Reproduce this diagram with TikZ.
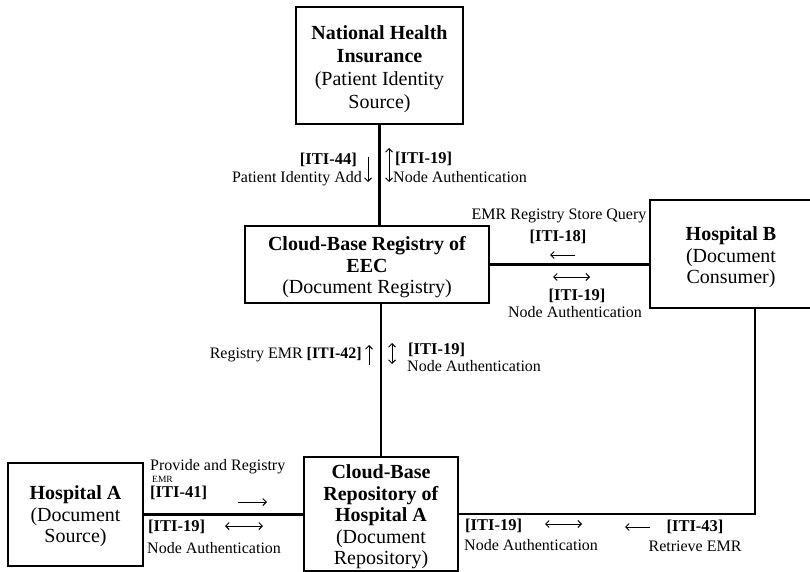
\documentclass[tikz,border=0pt]{standalone}
\usepackage{fontspec}
\setmainfont{Liberation Serif}
\usetikzlibrary{arrows.meta}
% strut that lowers a box's first line a little
\newcommand{\topstrut}[1]{\rule{0pt}{#1}}
\begin{document}
\begin{tikzpicture}[x=1pt,y=-1pt,
  box/.style={draw, line width=2.4pt, align=center, inner sep=2pt,
    font=\fontsize{20}{21.5}\selectfont},
  link/.style={line width=2.4pt},
  lab/.style={inner sep=0pt, font=\fontsize{16}{17}\selectfont},
  blab/.style={inner sep=0pt, font=\fontsize{16.5}{17}\selectfont\bfseries},
  tip/.tip={Straight Barb[length=3.5pt,width=7pt,line width=1pt]},
  sarr/.style={line width=1pt, -tip},
  darr/.style={line width=1pt, tip-tip}
]
\useasboundingbox (0,0) rectangle (810,572);

% participants
\node[box, minimum width=167pt, minimum height=117pt,
  font=\fontsize{20}{23}\selectfont] (nhi) at (379.5,65.5)
  {\topstrut{22pt}\textbf{National Health}\\\textbf{Insurance}\\(Patient Identity\\Source)};
\node[box, minimum width=244pt, minimum height=77pt] (reg) at (367,264.5)
  {\topstrut{20pt}\textbf{Cloud-Base Registry of}\\\textbf{EEC}\\(Document Registry)};
\node[box, minimum width=162pt, minimum height=108pt] (hb) at (731,254)
  {\topstrut{21pt}\textbf{Hospital B}\\(Document\\Consumer)};
\node[box, minimum width=154pt, minimum height=112pt] (repo) at (381,514)
  {\topstrut{20pt}\textbf{Cloud-Base}\\\textbf{Repository of}\\\textbf{Hospital A}\\(Document\\Repository)};
\node[box, minimum width=135pt, minimum height=103pt] (ha) at (75.5,514.5)
  {\topstrut{18pt}\textbf{Hospital A}\\(Document\\Source)};

% connectors
\draw[link] (nhi.south) -- (nhi.south |- reg.north);
\draw[link] (reg.east) -- (reg.east -| hb.west);
\draw[link] (repo.north) -- (repo.north |- reg.south);
\draw[link] (ha.east) -- (ha.east -| repo.west);
\coordinate (bend) at (755,514);
\draw[link] (repo.east) -- (bend) -- (bend |- hb.south);

% NHI -- registry
\node[blab, anchor=east] (t44) at (357,160) {[ITI-44]};
\node[lab, anchor=east] (t44d) at (362,179) {Patient Identity Add};
\coordinate (a44s) at (368,157); \coordinate (a44e) at (368,182);
\draw[sarr] (a44s) -- (a44e);
\coordinate (a19s) at (389,148); \coordinate (a19e) at (389,182);
\draw[darr] (a19s) -- (a19e);
\node[blab, anchor=west] (t19a) at (395,159) {[ITI-19]};
\node[lab, anchor=west] (t19ad) at (393,177) {Node Authentication};

% registry -- hospital B
\node[lab] (t18d) at (559,216) {EMR Registry Store Query};
\node[blab] (t18) at (558,237) {[ITI-18]};
\coordinate (a18s) at (575,255); \coordinate (a18e) at (550,255);
\draw[sarr] (a18s) -- (a18e);
\coordinate (b19s) at (553,277); \coordinate (b19e) at (590,277);
\draw[darr] (b19s) -- (b19e);
\node[blab] (t19b) at (577,296) {[ITI-19]};
\node[lab] (t19bd) at (575,312) {Node Authentication};

% registry -- repository
\node[lab, anchor=east] (t42) at (362,355) {Registry EMR \textbf{[ITI-42]}};
\coordinate (a42s) at (369,365); \coordinate (a42e) at (369,345);
\draw[sarr] (a42s) -- (a42e);
\coordinate (c19s) at (392,343); \coordinate (c19e) at (392,364);
\draw[darr] (c19s) -- (c19e);
\node[blab, anchor=west] (t19c) at (408,350) {[ITI-19]};
\node[lab, anchor=west] (t19cd) at (407,366) {Node Authentication};

% hospital A -- repository
\node[lab, anchor=west] (t41d) at (150,467) {Provide and Registry};
\node[inner sep=0pt, anchor=west, font=\fontsize{9.5}{10}\selectfont] (t41e) at (152,479.5) {EMR};
\node[blab, anchor=west] (t41) at (150,493) {[ITI-41]};
\coordinate (a41s) at (238,502); \coordinate (a41e) at (267,502);
\draw[sarr] (a41s) -- (a41e);
\node[blab, anchor=west] (t19d) at (148,527) {[ITI-19]};
\coordinate (d19s) at (225,526); \coordinate (d19e) at (263,526);
\draw[darr] (d19s) -- (d19e);
\node[lab, anchor=west] (t19dd) at (147,548) {Node Authentication};

% repository -- hospital B
\node[blab, anchor=west] (t19e) at (465,526) {[ITI-19]};
\coordinate (e19s) at (545,524); \coordinate (e19e) at (582,524);
\draw[darr] (e19s) -- (e19e);
\node[lab, anchor=west] (t19ed) at (464,545) {Node Authentication};
\coordinate (a43s) at (650,527); \coordinate (a43e) at (625,527);
\draw[sarr] (a43s) -- (a43e);
\node[blab] (t43) at (695,527) {[ITI-43]};
\node[lab] (t43d) at (695,546) {Retrieve EMR};
\end{tikzpicture}
\end{document}
